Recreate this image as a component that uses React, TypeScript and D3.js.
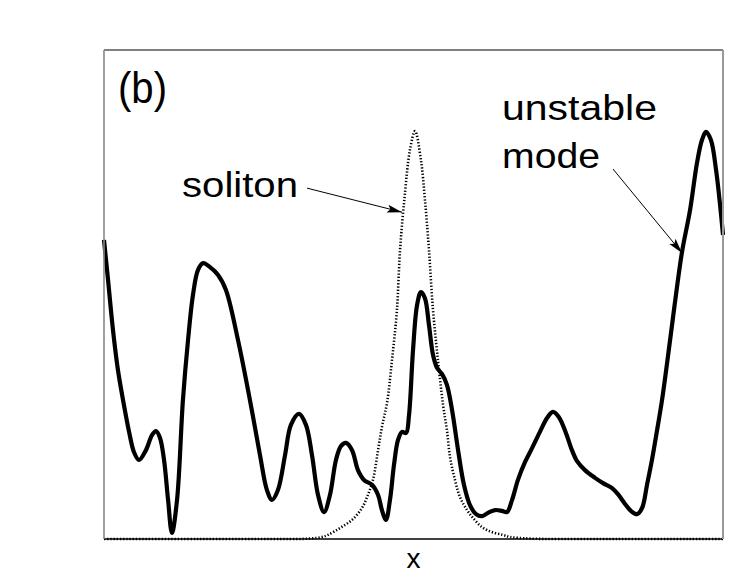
import React from "react";
import * as d3 from "d3";

// Unstable mode (solid)
const modeX = [
  -20.0, -19.74, -19.42, -19.1, -18.77, -18.38, -18.06, -17.74, -17.29, -16.9, -16.64, -16.38, -16.12, -15.86,
  -15.61, -15.28, -14.9, -14.57, -14.25, -13.93, -13.6, -13.15, -12.63, -12.12, -11.34, -10.57, -9.92, -9.47,
  -9.14, -8.76, -8.3, -7.92, -7.4, -6.95, -6.56, -6.17, -5.78, -5.4, -5.01, -4.69, -4.36, -3.97, -3.59, -3.2,
  -2.68, -2.29, -2.04, -1.78, -1.52, -1.26, -1.0, -0.74, -0.48, -0.29, -0.03, 0.23, 0.48, 0.74, 1.0, 1.26, 1.52,
  1.84, 2.16, 2.49, 2.88, 3.26, 3.65, 4.04, 4.43, 4.81, 5.27, 5.72, 6.04, 6.37, 6.75, 7.21, 7.66, 8.17, 8.63,
  9.01, 9.4, 9.85, 10.24, 10.57, 11.08, 11.73, 12.25, 12.83, 13.21, 13.67, 14.05, 14.44, 14.77, 15.09, 15.41,
  15.74, 16.06, 16.58, 16.96, 17.35, 17.87, 18.32, 18.64, 18.9, 19.22, 19.55, 19.81, 20.0,
];
const modeY = [
  0.734, 0.636, 0.513, 0.415, 0.341, 0.263, 0.213, 0.194, 0.218, 0.255, 0.265, 0.248, 0.194, 0.096,
  0.015, 0.096, 0.341, 0.488, 0.599, 0.66, 0.677, 0.667, 0.648, 0.611, 0.488, 0.341, 0.206, 0.12,
  0.096, 0.12, 0.206, 0.28, 0.307, 0.28, 0.206, 0.108, 0.066, 0.108, 0.194, 0.228, 0.236, 0.218, 0.169, 0.145,
  0.133, 0.108, 0.071, 0.047, 0.096, 0.182, 0.243, 0.263, 0.26, 0.304, 0.464, 0.574, 0.606, 0.591, 0.525, 0.452, 0.42,
  0.405, 0.378, 0.317, 0.218, 0.133, 0.083, 0.061, 0.056, 0.064, 0.071, 0.069, 0.066, 0.096, 0.145, 0.189, 0.223, 0.263, 0.297,
  0.312, 0.299, 0.26, 0.218, 0.191, 0.169, 0.15, 0.137, 0.125, 0.11, 0.086, 0.069, 0.061, 0.076, 0.133, 0.194,
  0.267, 0.341, 0.488, 0.599, 0.704, 0.807, 0.923, 0.979, 0.999, 0.979, 0.906, 0.82, 0.746,
];

// Soliton (dotted)
const solX = [
  -20, -13.8, -8.63, -6.69, -5.91, -5.53, -4.75, -3.97, -3.33, -3.0, -2.62, -2.29, -2.04, -1.71, -1.39, -1.07,
  -0.87, -0.55, -0.23, 0.1, 0.48, 0.74, 1.0, 1.26, 1.58, 1.91, 2.16, 2.36, 2.68, 3.0, 3.46, 3.84, 4.43, 5.07,
  5.78, 6.24, 7.53, 12.05, 20,
];
const solY = [
  0, 0, 0, 0.001, 0.005, 0.01, 0.027, 0.047, 0.076, 0.103, 0.145, 0.218, 0.275, 0.334, 0.439, 0.562,
  0.709, 0.849, 0.955, 1.001, 0.93, 0.832, 0.709, 0.562, 0.439, 0.329, 0.267, 0.201, 0.145, 0.103, 0.071, 0.052, 0.029, 0.017,
  0.01, 0.005, 0.001, 0, 0,
];

// Annotations: [tailX, tailY, tipX, tipY] in data units
const solitonArrow = [-6.88, 0.861, -0.74, 0.802];
const modeArrow = [12.89, 0.908, 17.35, 0.702];

const xDomain = [-20, 20];
const yDomain = [0, 1.2];

export default function App() {
  const W = 729, H = 582;
  const left = 104, right = 723, top = 50, bottom = 539;
  const xs = d3.scaleLinear().domain(xDomain).range([left, right]);
  const ys = d3.scaleLinear().domain(yDomain).range([bottom, top]);
  const line = d3
    .line<[number, number]>()
    .x((d) => xs(d[0]))
    .y((d) => ys(d[1]))
    .curve(d3.curveCatmullRom.alpha(0.5));
  const modePts = modeX.map((x, i) => [x, modeY[i]] as [number, number]);
  const solPts = solX.map((x, i) => [x, solY[i]] as [number, number]);
  const font = "'Liberation Sans', Arial, Helvetica, sans-serif";

  const arrow = (a: number[]) => (
    <line
      x1={xs(a[0])}
      y1={ys(a[1])}
      x2={xs(a[2])}
      y2={ys(a[3])}
      stroke="#000"
      strokeWidth={1}
      markerEnd="url(#ah)"
    />
  );

  return (
    <svg width={W} height={H} style={{ position: "absolute", left: 0, top: 0, background: "#fff" }}>
      <defs>
        <marker id="ah" markerUnits="userSpaceOnUse" markerWidth="20" markerHeight="12" refX="16" refY="5" orient="auto" viewBox="0 0 20 10">
          <path d="M16,5 L1,1 L4,5 L1,9 Z" fill="#000" />
        </marker>
      </defs>
      <rect x={0} y={0} width={W} height={H} fill="#fff" />
      <path d={line(solPts) || ""} fill="none" stroke="#000" strokeWidth={2.6} strokeDasharray="1.3 1.9" />
      <path d={line(modePts) || ""} fill="none" stroke="#000" strokeWidth={4.2} strokeLinejoin="round" />
      {/* frame */}
      <line x1={left} y1={top} x2={right} y2={top} stroke="#000" strokeWidth={1} />
      <line x1={left} y1={bottom} x2={right} y2={bottom} stroke="#000" strokeWidth={1.5} />
      <line x1={left} y1={top} x2={left} y2={bottom} stroke="#888" strokeWidth={1.6} />
      <line x1={right} y1={top} x2={right} y2={bottom} stroke="#999" strokeWidth={2} />
      {arrow(solitonArrow)}
      {arrow(modeArrow)}
      <text x={118} y={103} fontFamily={font} fontSize={44} textLength={49} lengthAdjust="spacingAndGlyphs">(b)</text>
      <text x={182} y={197} fontFamily={font} fontSize={35} textLength={116} lengthAdjust="spacingAndGlyphs">soliton</text>
      <text x={502} y={120} fontFamily={font} fontSize={35} textLength={155} lengthAdjust="spacingAndGlyphs">unstable</text>
      <text x={502} y={168} fontFamily={font} fontSize={35} textLength={98} lengthAdjust="spacingAndGlyphs">mode</text>
      <text x={(left + right) / 2} y={568} fontFamily={font} fontSize={28} textAnchor="middle">x</text>
    </svg>
  );
}
